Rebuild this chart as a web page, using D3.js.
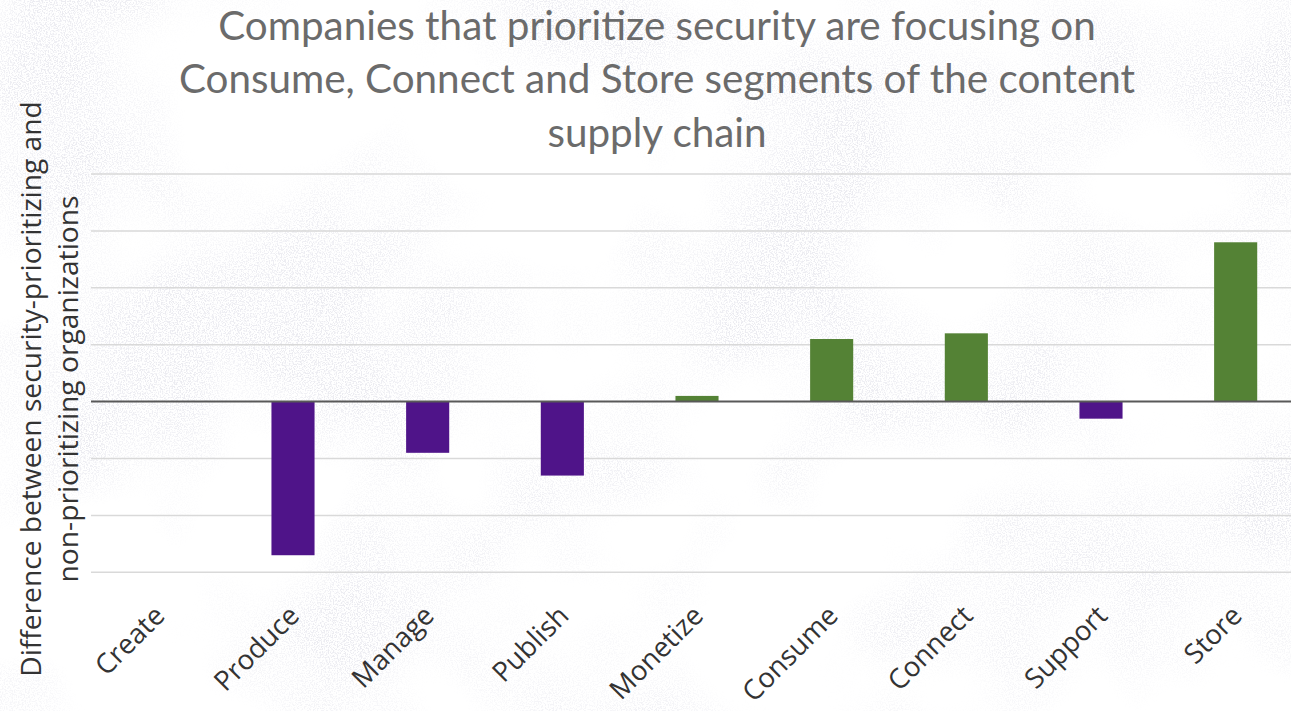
<!DOCTYPE html>
<html>
<head>
<meta charset="utf-8">
<script src="https://cdn.jsdelivr.net/npm/d3@7"></script>
<style>
  html, body { margin: 0; padding: 0; background: #ffffff; }
  svg { display: block; }
</style>
</head>
<body>
<div id="chart"></div>
<script>
// Supply-chain segments and the gap (percentage points) between
// security-prioritizing and non-prioritizing organizations
const segments = ["Create", "Produce", "Manage", "Publish", "Monetize", "Consume", "Connect", "Support", "Store"];
const difference = [0, -13.5, -4.5, -6.5, 0.5, 5.5, 6.0, -1.5, 14.0];
const gridTicks = [-15, -10, -5, 0, 5, 10, 15, 20];
const titleLines = [
  "Companies that prioritize security are focusing on",
  "Consume, Connect and Store segments of the content",
  "supply chain"
];
const yTitleLines = [
  "Difference between security-prioritizing and",
  "non-prioritizing organizations"
];

const W = 1291, H = 711;
const svg = d3.select("#chart").append("svg")
  .attr("width", W).attr("height", H)
  .attr("viewBox", [0, 0, W, H]);

// faint speckled paper texture behind the plot
const defs = svg.append("defs");
const grain = defs.append("filter").attr("id", "grain")
  .attr("x", 0).attr("y", 0).attr("width", W).attr("height", H)
  .attr("filterUnits", "userSpaceOnUse");
grain.append("feTurbulence").attr("type", "fractalNoise")
  .attr("baseFrequency", 0.75).attr("numOctaves", 2).attr("seed", 4).attr("result", "fine");
grain.append("feColorMatrix").attr("in", "fine").attr("type", "matrix")
  .attr("values", "0 0 0 0 0.70  0 0 0 0 0.70  0 0 0 0 0.78  7 0 0 0 -3.3").attr("result", "speck");
grain.append("feTurbulence").attr("type", "fractalNoise")
  .attr("baseFrequency", 0.0045).attr("numOctaves", 3).attr("seed", 11).attr("result", "cloud");
grain.append("feColorMatrix").attr("in", "cloud").attr("type", "matrix")
  .attr("values", "0 0 0 0 0  0 0 0 0 0  0 0 0 0 0  3.4 0 0 0 -1.45").attr("result", "mask");
grain.append("feComposite").attr("in", "speck").attr("in2", "mask").attr("operator", "in");

svg.append("rect").attr("x", 0).attr("y", 0).attr("width", W).attr("height", H)
  .attr("fill", "#fff").attr("filter", "url(#grain)").attr("opacity", 0.5);

// scales
const x = d3.scaleBand()
  .domain(segments)
  .range([91, 1303])
  .paddingInner(0.68)
  .paddingOuter(0.34);

const y = d3.scaleLinear()
  .domain([-15, 20])
  .range([572.3, 174]);

// horizontal gridlines
svg.append("g").attr("class", "grid")
  .selectAll("line")
  .data(gridTicks.filter(t => t !== 0))
  .join("line")
  .attr("x1", 91).attr("x2", 1303)
  .attr("y1", d => y(d)).attr("y2", d => y(d))
  .attr("stroke", "#d9d9d9").attr("stroke-width", 1.5);

// bars
svg.append("g").attr("class", "bars")
  .selectAll("rect")
  .data(segments.map((s, i) => ({ s, v: difference[i] })).filter(d => d.v !== 0))
  .join("rect")
  .attr("x", d => x(d.s))
  .attr("width", x.bandwidth())
  .attr("y", d => y(Math.max(0, d.v)))
  .attr("height", d => Math.abs(y(d.v) - y(0)))
  .attr("fill", d => d.v < 0 ? "#4f1489" : "#548235");

// zero baseline
svg.append("line")
  .attr("x1", 91).attr("x2", 1303)
  .attr("y1", y(0)).attr("y2", y(0))
  .attr("stroke", "#595959").attr("stroke-width", 2);

// category axis with slanted labels
const xAxis = d3.axisBottom(x).tickSize(0).tickPadding(0);
const gx = svg.append("g")
  .attr("transform", `translate(0,${y(-15) + 45})`)
  .call(xAxis);
gx.select(".domain").remove();
gx.attr("font-family", "'Open Sans', sans-serif");
gx.selectAll(".tick text")
  .attr("font-size", 27.5)
  .attr("fill", "#333333")
  .attr("text-anchor", "end")
  .attr("dy", 0)
  .attr("transform", "translate(8,0) rotate(-45)");

// title, fitted to the content width
const title = svg.append("g").attr("class", "title")
  .attr("font-family", "Lato, sans-serif")
  .attr("fill", "#6b6b6b")
  .attr("text-anchor", "middle");
const titleRows = title.selectAll("text").data(titleLines).join("text")
  .attr("x", 657)
  .attr("y", (d, i) => 40 + i * 53.3)
  .attr("font-size", 36)
  .text(d => d);
const firstRow = titleRows.nodes()[0].getComputedTextLength();
titleRows.attr("font-size", 36 * 878 / firstRow);

// rotated y-axis title
const yt = svg.append("g")
  .attr("transform", "translate(0,389) rotate(-90)")
  .attr("font-family", "'Open Sans', sans-serif")
  .attr("fill", "#333333")
  .attr("text-anchor", "middle");
const ytRows = yt.selectAll("text").data(yTitleLines).join("text")
  .attr("x", 0)
  .attr("y", (d, i) => 41 + i * 37)
  .attr("font-size", 24)
  .text(d => d);
const ytLen = ytRows.nodes()[1].getComputedTextLength();
ytRows.attr("font-size", 24 * 387 / ytLen);
</script>
</body>
</html>
